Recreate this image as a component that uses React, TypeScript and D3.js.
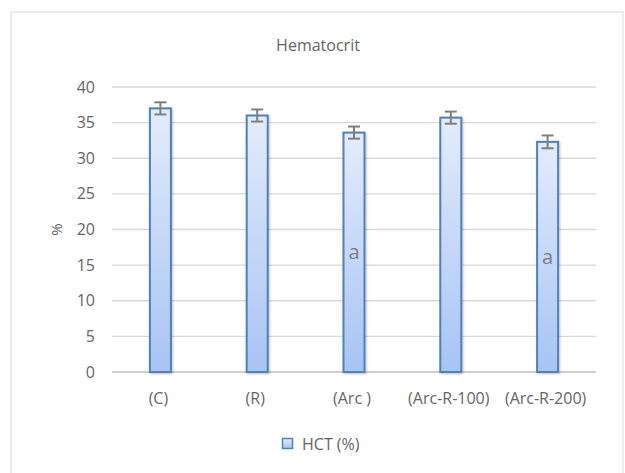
import { useRef, useEffect } from "react";
import * as d3 from "d3";

const categories = ["(C)", "(R)", "(Arc )", "(Arc-R-100)", "(Arc-R-200)"];
const hctValues = [37.0, 36.0, 33.6, 35.7, 32.3];
const hctErrors = [0.85, 0.85, 0.85, 0.85, 0.9];
const sigLabels = ["", "", "a", "", "a"];
const yTicks = [0, 5, 10, 15, 20, 25, 30, 35, 40];

const W = 625;
const H = 473;
const FONT = "'Open Sans', 'Liberation Sans', sans-serif";
const TXT = "#666666";

export default function App() {
  const svgRef = useRef<SVGSVGElement | null>(null);

  useEffect(() => {
    if (!svgRef.current) return;
    const svg = d3.select(svgRef.current);
    svg.selectAll("*").remove();

    const left = 112;
    const right = 596;
    const top = 87;
    const bottom = 372;

    const x = d3.scaleBand().domain(categories).range([left, right]).padding(0);
    const y = d3.scaleLinear().domain([0, 40]).range([bottom, top]);
    const barW = 21;

    const defs = svg.append("defs");
    const grad = defs.append("linearGradient")
      .attr("id", "barGrad")
      .attr("x1", 0).attr("y1", 0).attr("x2", 0).attr("y2", 1);
    grad.append("stop").attr("offset", "0%").attr("stop-color", "#e3ecfc");
    grad.append("stop").attr("offset", "100%").attr("stop-color", "#a7c4f4");

    const shadow = defs.append("filter").attr("id", "shadow")
      .attr("x", "-50%").attr("y", "-10%").attr("width", "200%").attr("height", "120%");
    shadow.append("feDropShadow")
      .attr("dx", 1).attr("dy", 1).attr("stdDeviation", 1.2)
      .attr("flood-color", "#000").attr("flood-opacity", 0.25);

    // chart frame
    svg.append("rect")
      .attr("x", 11).attr("y", 12).attr("width", 612).attr("height", 470)
      .attr("fill", "#fff").attr("stroke", "#d9d9d9").attr("stroke-width", 1);

    // title
    svg.append("text")
      .attr("x", 318).attr("y", 51)
      .attr("text-anchor", "middle")
      .style("font-family", FONT).style("font-size", "16px").attr("fill", TXT)
      .text("Hematocrit");

    // gridlines
    svg.append("g").selectAll("line")
      .data(yTicks)
      .join("line")
      .attr("x1", left).attr("x2", right)
      .attr("y1", (d) => y(d)).attr("y2", (d) => y(d))
      .attr("stroke", (d) => (d === 0 ? "#bfbfbf" : "#d9d9d9"))
      .attr("stroke-width", 1.3);

    // y tick labels
    svg.append("g").selectAll("text")
      .data(yTicks)
      .join("text")
      .attr("x", 95).attr("y", (d) => y(d) + 5.5)
      .attr("text-anchor", "end")
      .style("font-family", FONT).style("font-size", "16px").attr("fill", TXT)
      .text((d) => d);

    // y axis title
    svg.append("text")
      .attr("transform", `translate(62,${(top + bottom) / 2}) rotate(-90)`)
      .attr("text-anchor", "middle")
      .style("font-family", FONT).style("font-size", "15px").attr("fill", TXT)
      .text("%");

    // bars
    const bars = svg.append("g");
    categories.forEach((c, i) => {
      const cx = (x(c) as number) + x.bandwidth() / 2;
      bars.append("rect")
        .attr("x", cx - barW / 2)
        .attr("y", y(hctValues[i]))
        .attr("width", barW)
        .attr("height", y(0) - y(hctValues[i]))
        .attr("fill", "url(#barGrad)")
        .attr("stroke", "#4f81bd")
        .attr("stroke-width", 2)
        .attr("filter", "url(#shadow)");

      // error bar
      const e0 = y(hctValues[i] - hctErrors[i]);
      const e1 = y(hctValues[i] + hctErrors[i]);
      const eg = svg.append("g").attr("stroke", "#7f7f7f").attr("stroke-width", 2);
      eg.append("line").attr("x1", cx).attr("x2", cx).attr("y1", e0).attr("y2", e1);
      eg.append("line").attr("x1", cx - 6).attr("x2", cx + 6).attr("y1", e0).attr("y2", e0);
      eg.append("line").attr("x1", cx - 6).attr("x2", cx + 6).attr("y1", e1).attr("y2", e1);

      if (sigLabels[i]) {
        svg.append("text")
          .attr("x", cx)
          .attr("y", (y(hctValues[i]) + y(0)) / 2 + 7)
          .attr("text-anchor", "middle")
          .style("font-family", FONT).style("font-size", "20px").attr("fill", "#7f7f7f")
          .text(sigLabels[i]);
      }

      // category label
      svg.append("text")
        .attr("x", cx - 2)
        .attr("y", 404)
        .attr("text-anchor", "middle")
        .style("font-family", FONT).style("font-size", "16px").attr("fill", TXT)
        .text(c);
    });

    // legend
    svg.append("rect")
      .attr("x", 282.5).attr("y", 438.5).attr("width", 10).attr("height", 10)
      .attr("fill", "url(#barGrad)").attr("stroke", "#4f81bd").attr("stroke-width", 1.5);
    svg.append("text")
      .attr("x", 302).attr("y", 449.5)
      .style("font-family", FONT).style("font-size", "16px").attr("fill", TXT)
      .text("HCT (%)");
  }, []);

  return (
    <div style={{ position: "absolute", left: 0, top: 0 }}>
      <svg ref={svgRef} width={W} height={H} style={{ display: "block" }} />
    </div>
  );
}
